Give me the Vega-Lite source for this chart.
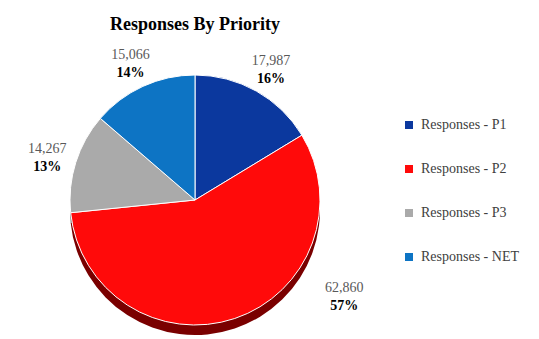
{
  "$schema": "https://vega.github.io/schema/vega-lite/v6.json",
  "width": 390,
  "height": 260,
  "autosize": "none",
  "padding": {"top": 70, "left": 0, "right": 149, "bottom": 9},
  "background": "white",
  "title": {
    "text": "Responses By Priority",
    "font": "Times New Roman, Liberation Serif, serif",
    "fontSize": 18,
    "fontWeight": "bold",
    "color": "#000000",
    "anchor": "middle",
    "frame": "group",
    "offset": 14
  },
  "data": {
    "values": [
      {"cat": "Responses - P1", "n": 17987, "pct": "16%", "idx": 1},
      {"cat": "Responses - P2", "n": 62860, "pct": "57%", "idx": 2},
      {"cat": "Responses - P3", "n": 14267, "pct": "13%", "idx": 3},
      {"cat": "Responses - NET", "n": 15066, "pct": "14%", "idx": 4}
    ]
  },
  "encoding": {
    "theta": {"field": "n", "type": "quantitative", "stack": true},
    "order": {"field": "idx", "type": "quantitative"}
  },
  "layer": [
    {
      "mark": {"type": "arc", "outerRadius": 125, "yOffset": 10},
      "encoding": {
        "color": {
          "field": "cat", "type": "nominal", "sort": null,
          "scale": {"domain": ["Responses - P1", "Responses - P2", "Responses - P3", "Responses - NET"],
                    "range": ["#062878", "#7a0000", "#6a6a6a", "#08508a"]},
          "legend": null
        }
      }
    },
    {
      "mark": {"type": "arc", "outerRadius": 125, "stroke": "white", "strokeWidth": 1},
      "encoding": {
        "color": {
          "field": "cat", "type": "nominal", "sort": null,
          "scale": {"domain": ["Responses - P1", "Responses - P2", "Responses - P3", "Responses - NET"],
                    "range": ["#0b389e", "#ff0a0a", "#aaaaaa", "#0d74c4"]},
          "legend": {
            "title": null,
            "orient": "none",
            "legendX": 402,
            "legendY": 48,
            "symbolType": "square",
            "symbolSize": 64,
            "symbolStrokeWidth": 0,
            "labelFont": "Times New Roman, Liberation Serif, serif",
            "labelFontSize": 14,
            "labelColor": "#404040",
            "labelOffset": 5,
            "rowPadding": 30
          }
        }
      }
    },
    {
      "mark": {"type": "text", "radius": 155, "dy": -4, "font": "Times New Roman, Liberation Serif, serif", "fontSize": 14, "color": "#595959"},
      "encoding": {
        "text": {"field": "n", "type": "quantitative", "format": ","},
        "opacity": {"condition": {"test": "datum.cat === 'Responses - P2'", "value": 0}, "value": 1}
      }
    },
    {
      "mark": {"type": "text", "radius": 155, "dy": 14, "font": "Times New Roman, Liberation Serif, serif", "fontSize": 14, "fontWeight": "bold", "color": "#000000"},
      "encoding": {
        "text": {"field": "pct", "type": "nominal"},
        "opacity": {"condition": {"test": "datum.cat === 'Responses - P2'", "value": 0}, "value": 1}
      }
    },
    {
      "transform": [{"filter": "datum.cat === 'Responses - P2'"}],
      "mark": {"type": "text", "radius": 178, "thetaOffset": -1.438, "dy": -9, "font": "Times New Roman, Liberation Serif, serif", "fontSize": 14, "color": "#595959"},
      "encoding": {
        "theta": {"field": "n", "type": "quantitative", "stack": null},
        "order": null,
        "text": {"field": "n", "type": "quantitative", "format": ","}
      }
    },
    {
      "transform": [{"filter": "datum.cat === 'Responses - P2'"}],
      "mark": {"type": "text", "radius": 178, "thetaOffset": -1.438, "dy": 9, "font": "Times New Roman, Liberation Serif, serif", "fontSize": 14, "fontWeight": "bold", "color": "#000000"},
      "encoding": {
        "theta": {"field": "n", "type": "quantitative", "stack": null},
        "order": null,
        "text": {"field": "pct", "type": "nominal"}
      }
    }
  ],
  "resolve": {"scale": {"color": "independent"}},
  "config": {
    "font": "Times New Roman, Liberation Serif, serif",
    "view": {"stroke": null},
    "legend": {"labelFont": "Times New Roman, Liberation Serif, serif", "labelFontSize": 14, "labelColor": "#404040"}
  }
}
